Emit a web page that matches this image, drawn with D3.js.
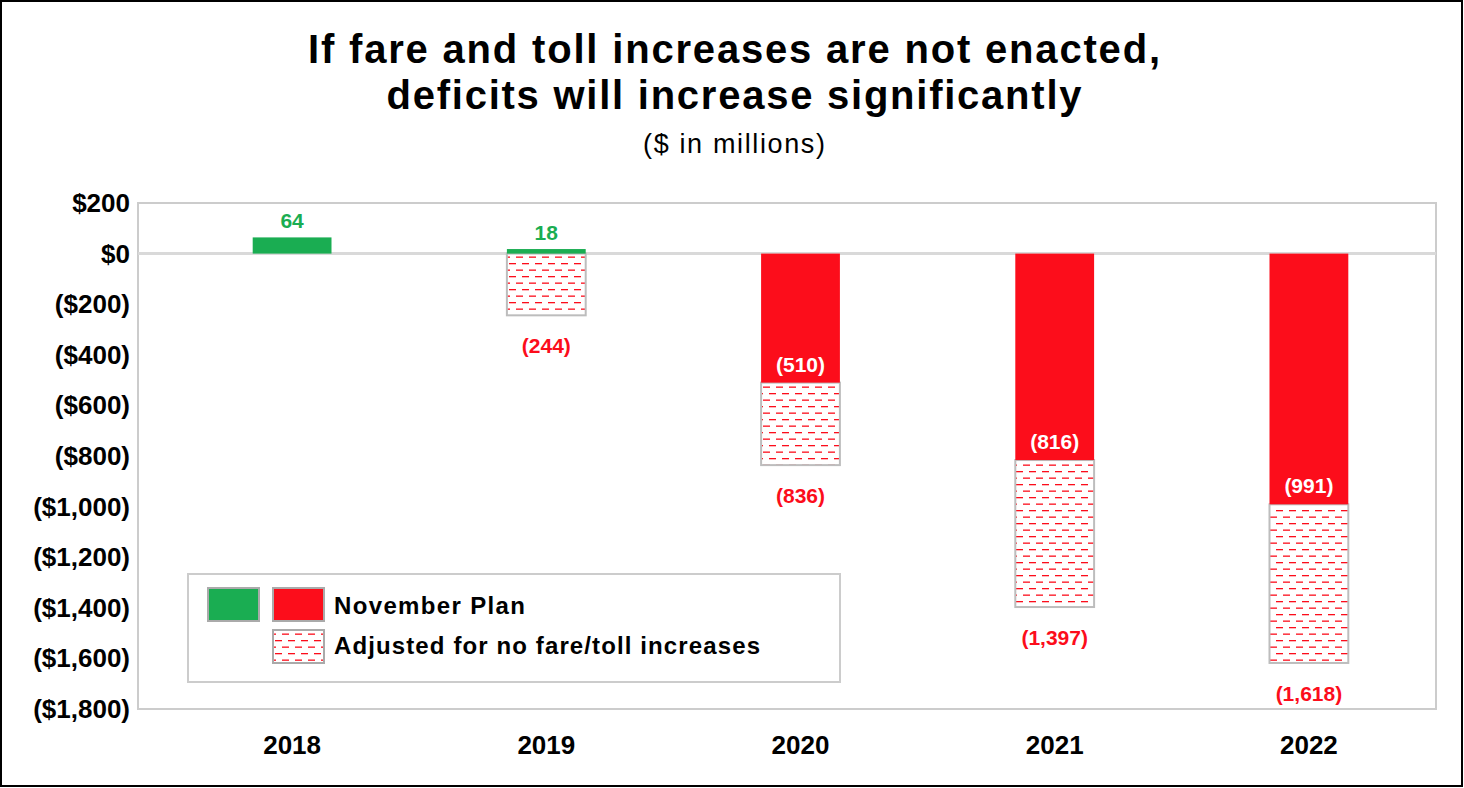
<!DOCTYPE html>
<html><head><meta charset="utf-8">
<script src="https://cdn.jsdelivr.net/npm/d3@7"></script>
<style>body{margin:0;background:#fff}text{font-family:Arial,"Liberation Sans",sans-serif}</style>
</head><body>
<svg width="1464" height="788"></svg>
<script>
// values in $ millions
var years = ['2018', '2019', '2020', '2021', '2022'];
var novemberPlan = [64, 18, -510, -816, -991];
var adjusted = [null, -244, -836, -1397, -1618];
var yTicks = [200, 0, -200, -400, -600, -800, -1000, -1200, -1400, -1600, -1800];

var svg = d3.select('svg');
var green = '#1aad52', red = '#fc0d1b';

var defs = svg.append('defs');
var pat = defs.append('pattern').attr('id', 'dash').attr('patternUnits', 'userSpaceOnUse')
    .attr('width', 13).attr('height', 13);
pat.append('rect').attr('width', 13).attr('height', 13).attr('fill', '#fff');
pat.append('rect').attr('x', 2).attr('y', 3).attr('width', 7).attr('height', 1.3).attr('fill', red);
pat.append('rect').attr('x', -4).attr('y', 9.5).attr('width', 7).attr('height', 1.3).attr('fill', red);
pat.append('rect').attr('x', 9).attr('y', 9.5).attr('width', 7).attr('height', 1.3).attr('fill', red);

// outer border
svg.append('rect').attr('x', 1).attr('y', 1).attr('width', 1461).attr('height', 785)
    .attr('fill', 'none').attr('stroke', '#000').attr('stroke-width', 2);

svg.append('text').attr('x', 734).attr('y', 63).attr('text-anchor', 'middle').attr('textLength', 852)
    .style('font-size', '40px').style('font-weight', 'bold').text('If fare and toll increases are not enacted,');
svg.append('text').attr('x', 734).attr('y', 109).attr('text-anchor', 'middle').attr('textLength', 695)
    .style('font-size', '40px').style('font-weight', 'bold').text('deficits will increase significantly');
svg.append('text').attr('x', 734).attr('y', 153).attr('text-anchor', 'middle').attr('textLength', 182)
    .style('font-size', '27px').text('($ in millions)');

var y = d3.scaleLinear().domain([-1800, 200]).range([709, 203]);
var x = d3.scaleBand().domain(years).range([165, 1436]).paddingInner(0.69).paddingOuter(0.345);

svg.append('rect').attr('x', 138).attr('y', y(200)).attr('width', 1298).attr('height', y(-1800) - y(200))
    .attr('fill', 'none').attr('stroke', '#ccc').attr('stroke-width', 2);
svg.append('line').attr('x1', 138).attr('x2', 1436).attr('y1', y(0)).attr('y2', y(0))
    .attr('stroke', '#d9d9d9').attr('stroke-width', 3);

var fmtTick = function(v) {
    var s = '$' + d3.format(',')(Math.abs(v));
    return v < 0 ? '(' + s + ')' : s;
};
svg.selectAll('.ytick').data(yTicks).enter().append('text')
    .attr('x', 130).attr('y', function(d) { return y(d) + 9; }).attr('text-anchor', 'end')
    .style('font-size', '26px').style('font-weight', 'bold').text(fmtTick);
svg.selectAll('.xtick').data(years).enter().append('text')
    .attr('x', function(d) { return x(d) + x.bandwidth() / 2; }).attr('y', 754).attr('text-anchor', 'middle')
    .style('font-size', '26px').style('font-weight', 'bold').text(function(d) { return d; });

var fmtVal = function(v) { return v < 0 ? '(' + d3.format(',')(-v) + ')' : d3.format(',')(v); };

// adjusted (hatched) bars: from plan (or 0 if plan positive) down to adjusted value
years.forEach(function(yr, i) {
    var a = adjusted[i];
    if (a === null) return;
    var top = Math.min(0, novemberPlan[i]);
    svg.append('rect').attr('x', x(yr)).attr('width', x.bandwidth())
        .attr('y', y(top)).attr('height', y(a) - y(top))
        .attr('fill', 'url(#dash)').attr('stroke', '#bdbdbd').attr('stroke-width', 2);
    svg.append('text').attr('x', x(yr) + x.bandwidth() / 2).attr('y', y(a) + 38).attr('text-anchor', 'middle')
        .style('font-size', '21px').style('font-weight', 'bold').attr('fill', red).text(fmtVal(a));
});

svg.selectAll('.plan').data(novemberPlan).enter().append('rect')
    .attr('x', function(d, i) { return x(years[i]); }).attr('width', x.bandwidth())
    .attr('y', function(d) { return y(Math.max(0, d)); })
    .attr('height', function(d) { return Math.abs(y(d) - y(0)); })
    .attr('fill', function(d) { return d > 0 ? green : red; });

svg.selectAll('.planLbl').data(novemberPlan).enter().append('text')
    .attr('x', function(d, i) { return x(years[i]) + x.bandwidth() / 2; })
    .attr('y', function(d) { return d > 0 ? y(d) - 9 : y(d) - 11; })
    .attr('text-anchor', 'middle').style('font-size', '21px').style('font-weight', 'bold')
    .attr('fill', function(d) { return d > 0 ? green : '#fff'; }).text(fmtVal);

// legend
var lg = svg.append('g');
lg.append('rect').attr('x', 188).attr('y', 574).attr('width', 652).attr('height', 108)
    .attr('fill', '#fff').attr('stroke', '#ccc').attr('stroke-width', 2);
lg.append('rect').attr('x', 208).attr('y', 588).attr('width', 51).attr('height', 33)
    .attr('fill', green).attr('stroke', '#aaa').attr('stroke-width', 2);
lg.append('rect').attr('x', 273).attr('y', 588).attr('width', 51).attr('height', 33)
    .attr('fill', red).attr('stroke', '#aaa').attr('stroke-width', 2);
lg.append('rect').attr('x', 273).attr('y', 630).attr('width', 51).attr('height', 33)
    .attr('fill', 'url(#dash)').attr('stroke', '#aaa').attr('stroke-width', 2);
lg.append('text').attr('x', 334).attr('y', 614).attr('textLength', 191)
    .style('font-size', '24px').style('font-weight', 'bold').text('November Plan');
lg.append('text').attr('x', 334).attr('y', 654).attr('textLength', 426)
    .style('font-size', '24px').style('font-weight', 'bold').text('Adjusted for no fare/toll increases');
</script>
</body></html>
